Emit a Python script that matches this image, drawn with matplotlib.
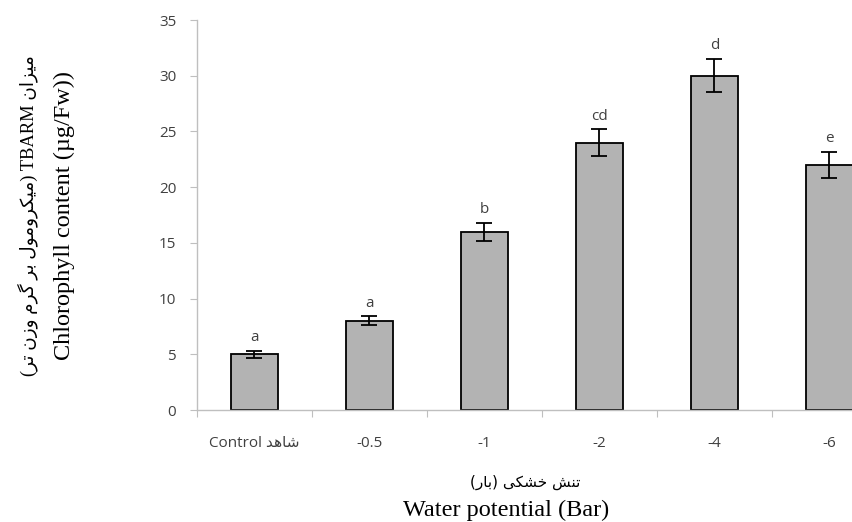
import numpy as np
import matplotlib
matplotlib.use("Agg")
import matplotlib.pyplot as plt

# data
levels = ["Control", "-0.5", "-1", "-2", "-4", "-6"]
means = [5, 8, 16, 24, 30, 22]
errs = [0.3, 0.4, 0.8, 1.2, 1.5, 1.15]
groups = ["a", "a", "b", "cd", "d", "e"]

# minimal persian shaping (matplotlib has no bidi / joining)
FORMS = {
    "ا": ("\uFE8D", "\uFE8E", None, None),
    "ب": ("\uFE8F", "\uFE90", "\uFE91", "\uFE92"),
    "ت": ("\uFE95", "\uFE96", "\uFE97", "\uFE98"),
    "خ": ("\uFEA5", "\uFEA6", "\uFEA7", "\uFEA8"),
    "د": ("\uFEA9", "\uFEAA", None, None),
    "ر": ("\uFEAD", "\uFEAE", None, None),
    "ز": ("\uFEAF", "\uFEB0", None, None),
    "ش": ("\uFEB5", "\uFEB6", "\uFEB7", "\uFEB8"),
    "ل": ("\uFEDD", "\uFEDE", "\uFEDF", "\uFEE0"),
    "م": ("\uFEE1", "\uFEE2", "\uFEE3", "\uFEE4"),
    "ن": ("\uFEE5", "\uFEE6", "\uFEE7", "\uFEE8"),
    "ه": ("\uFEE9", "\uFEEA", "\uFEEB", "\uFEEC"),
    "و": ("\uFEED", "\uFEEE", None, None),
    "ی": ("\uFBFC", "\uFBFD", "\uFBFE", "\uFBFF"),
    "ک": ("\uFB8E", "\uFB8F", "\uFB90", "\uFB91"),
    "گ": ("\uFB92", "\uFB93", "\uFB94", "\uFB95"),
}


def shape(s):
    out = []
    for i, c in enumerate(s):
        if c not in FORMS:
            out.append(c)
            continue
        prev = s[i - 1] if i > 0 else ""
        nxt = s[i + 1] if i < len(s) - 1 else ""
        jp = prev in FORMS and FORMS[prev][2] is not None
        jn = FORMS[c][2] is not None and nxt in FORMS
        iso, fin, ini, med = FORMS[c]
        if jp and jn:
            out.append(med)
        elif jp:
            out.append(fin)
        elif jn:
            out.append(ini)
        else:
            out.append(iso)
    return out


def rtl(s):
    swap = {"(": ")", ")": "("}
    return "".join(swap.get(c, c) for c in reversed(shape(s)))


tick_labels = ["Control " + rtl("شاهد")] + levels[1:]
ylab_fa = rtl("(میکرومول بر گرم وزن تر)") + " TBARM " + rtl("میزان")
ylab_en = "Chlorophyll content (µg/Fw))"
xlab_fa = rtl("تنش خشکی (بار)")
xlab_en = "Water potential (Bar)"

sans = ["Open Sans", "DejaVu Sans"]
serif = ["Liberation Serif", "DejaVu Sans"]
grey = "#404040"

fig = plt.figure(figsize=(8.53, 5.22), dpi=100)
ax = fig.add_axes([197 / 853, 112 / 522, 690 / 853, 390 / 522])

x = np.arange(len(levels))
ax.bar(x, means, width=0.41, color="#b3b3b3", edgecolor="black", linewidth=1.3, zorder=2)
ax.errorbar(x, means, yerr=errs, fmt="none", ecolor="black", elinewidth=1.3,
            capsize=5.5, capthick=1.3, zorder=3)
for xi, m, e, g in zip(x, means, errs, groups):
    ax.annotate(g, (xi, m + e), xytext=(0, 4), textcoords="offset points",
                ha="center", va="bottom", fontsize=11, color=grey, family=sans)

ax.set_xlim(-0.5, len(levels) - 0.5)
ax.set_ylim(0, 35)
ax.set_yticks(np.arange(0, 36, 5))
ax.set_xticks(np.arange(-0.5, len(levels), 1.0))
ax.set_xticklabels([])
ax.set_xticks(x, minor=True)
ax.set_xticklabels(tick_labels, minor=True, family=sans, fontsize=11, color=grey)
for lab in ax.get_yticklabels():
    lab.set_family(sans)
    lab.set_fontsize(11)
    lab.set_color(grey)

ax.tick_params(axis="x", which="major", length=5, color="#bfbfbf", direction="out")
ax.tick_params(axis="x", which="minor", length=0, pad=19)
ax.tick_params(axis="y", length=5, color="#bfbfbf", pad=10)
for side in ["top", "right"]:
    ax.spines[side].set_visible(False)
for side in ["left", "bottom"]:
    ax.spines[side].set_color("#bfbfbf")
    ax.spines[side].set_linewidth(1.0)

fig.text(525 / 853, 1 - 482 / 522, xlab_fa, ha="center", va="center", fontsize=11, family=["DejaVu Sans"])
fig.text(506 / 853, 1 - 510 / 522, xlab_en, ha="center", va="center", fontsize=17.5, family=serif)
fig.text(28 / 853, 1 - 216 / 522, ylab_fa, ha="center", va="center", rotation=90, fontsize=13.3, family=serif)
fig.text(64 / 853, 1 - 216 / 522, ylab_en, ha="center", va="center", rotation=90, fontsize=17.5, family=serif)

fig.savefig("out.png", dpi=100)
